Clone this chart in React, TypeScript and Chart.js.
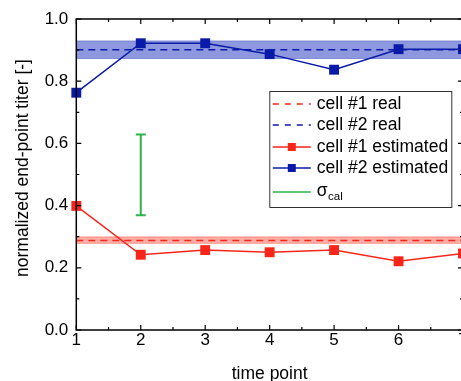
import React, { useEffect, useRef } from "react";
import { Chart, registerables } from "chart.js";

Chart.register(...registerables);

// ---- data ----
const timePoints = [1, 2, 3, 4, 5, 6, 7];
const cell1Estimated = [0.399, 0.242, 0.257, 0.25, 0.257, 0.221, 0.246];
const cell2Estimated = [0.763, 0.922, 0.922, 0.887, 0.837, 0.903, 0.903];
const cell1Real = 0.288;
const cell1RealBand = [0.279, 0.299];
const cell2Real = 0.901;
const cell2RealBand = [0.873, 0.929];
const sigmaCalX = 2;
const sigmaCalRange = [0.369, 0.629];
const xTicks = [1, 2, 3, 4, 5, 6, 7];
const yTicks = [0, 0.2, 0.4, 0.6, 0.8, 1.0];
const xMinorTicks = [1.5, 2.5, 3.5, 4.5, 5.5, 6.5];
const yMinorTicks = [0.1, 0.3, 0.5, 0.7, 0.9];
const legendLabels = ["cell #1 real", "cell #2 real", "cell #1 estimated", "cell #2 estimated"];
const xTitle = "time point";
const yTitle = "normalized end-point titer [-]";

const RED = "#f8261a";
const BLUE = "#0a1aa8";
const GREEN = "#2db44a";
const FONT = "'Liberation Sans', Arial, sans-serif";

const span = (v: number) => [
  { x: timePoints[0], y: v },
  { x: timePoints[timePoints.length - 1], y: v },
];

const framePlugin = {
  id: "frame",
  afterDatasetsDraw(chart: any) {
    const { ctx, chartArea: a, scales } = chart;
    const xs = scales.x, ys = scales.y;
    ctx.save();
    ctx.strokeStyle = "#000";
    ctx.lineWidth = 1.5;
    ctx.strokeRect(a.left, a.top, a.right - a.left, a.bottom - a.top);
    ctx.lineWidth = 1.2;
    ctx.beginPath();
    const tick = (vals: number[], len: number) => {
      vals.forEach((v) => {
        const px = xs.getPixelForValue(v);
        ctx.moveTo(px, a.bottom); ctx.lineTo(px, a.bottom - len);
        ctx.moveTo(px, a.top); ctx.lineTo(px, a.top + len);
      });
    };
    const tickY = (vals: number[], len: number) => {
      vals.forEach((v) => {
        const py = ys.getPixelForValue(v);
        ctx.moveTo(a.left, py); ctx.lineTo(a.left + len, py);
        ctx.moveTo(a.right, py); ctx.lineTo(a.right - len, py);
      });
    };
    tick(xTicks, 5); tick(xMinorTicks, 3);
    tickY(yTicks, 5); tickY(yMinorTicks, 3);
    ctx.stroke();

    // axis titles
    ctx.fillStyle = "#000";
    ctx.font = `17.5px ${FONT}`;
    ctx.textAlign = "center";
    ctx.textBaseline = "alphabetic";
    ctx.fillText(xTitle, (a.left + a.right) / 2, 379);
    ctx.save();
    ctx.translate(27.5, 168);
    ctx.rotate(-Math.PI / 2);
    ctx.fillText(yTitle, 0, 0);
    ctx.restore();
    ctx.restore();
  },
};

const legendPlugin = {
  id: "customLegend",
  afterDraw(chart: any) {
    const { ctx, chartArea: a } = chart;
    const bx = a.left + 193.5, by = 91.5, bw = 182, bh = 116;
    ctx.save();
    ctx.fillStyle = "#fff";
    ctx.fillRect(bx, by, bw, bh);
    ctx.strokeStyle = "#333";
    ctx.lineWidth = 1;
    ctx.strokeRect(bx, by, bw, bh);
    const x0 = bx + 3, x1 = bx + 41, tx = bx + 47;
    const rows = [104, 125, 147, 168];
    const colors = [RED, BLUE, RED, BLUE];
    rows.forEach((ry, i) => {
      ctx.strokeStyle = colors[i];
      ctx.lineWidth = 1.5;
      ctx.setLineDash(i < 2 ? [6, 6] : []);
      ctx.beginPath();
      ctx.moveTo(x0, ry); ctx.lineTo(x1, ry);
      ctx.stroke();
      ctx.setLineDash([]);
      if (i >= 2) {
        ctx.fillStyle = colors[i];
        ctx.fillRect((x0 + x1) / 2 - 4, ry - 4, 8, 8);
      }
      ctx.fillStyle = "#000";
      ctx.font = `17.5px ${FONT}`;
      ctx.textAlign = "left";
      ctx.textBaseline = "middle";
      ctx.fillText(legendLabels[i], tx, ry);
    });
    // sigma_cal
    ctx.strokeStyle = GREEN;
    ctx.lineWidth = 1.5;
    ctx.beginPath();
    ctx.moveTo(x0, 192); ctx.lineTo(x1, 192);
    ctx.stroke();
    ctx.fillStyle = "#000";
    ctx.textBaseline = "alphabetic";
    ctx.font = `17.5px ${FONT}`;
    ctx.fillText("σ", tx, 196);
    const w = ctx.measureText("σ").width;
    ctx.font = `11.5px ${FONT}`;
    ctx.fillText("cal", tx + w + 0.5, 200);
    ctx.restore();
  },
};

export default function App() {
  const ref = useRef<HTMLCanvasElement>(null);
  useEffect(() => {
    if (!ref.current) return;
    const tickFont = { family: FONT, size: 17 };
    const chart = new Chart(ref.current, {
      type: "line",
      data: {
        datasets: [
          {
            label: legendLabels[3],
            data: timePoints.map((t, i) => ({ x: t, y: cell2Estimated[i] })),
            borderColor: BLUE,
            backgroundColor: BLUE,
            borderWidth: 1.5,
            pointStyle: "rect",
            pointRadius: 7,
            pointBorderWidth: 0,
            clip: false,
          },
          {
            label: legendLabels[2],
            data: timePoints.map((t, i) => ({ x: t, y: cell1Estimated[i] })),
            borderColor: RED,
            backgroundColor: RED,
            borderWidth: 1.5,
            pointStyle: "rect",
            pointRadius: 7,
            pointBorderWidth: 0,
            clip: false,
          },
          {
            label: "σcal",
            data: [
              { x: sigmaCalX, y: sigmaCalRange[0] },
              { x: sigmaCalX, y: sigmaCalRange[1] },
            ],
            borderColor: GREEN,
            backgroundColor: GREEN,
            borderWidth: 2,
            pointStyle: "line",
            pointRadius: 5,
            pointBorderWidth: 2,
            pointBorderColor: GREEN,
          },
          {
            label: legendLabels[0],
            data: span(cell1Real),
            borderColor: RED,
            borderWidth: 1.5,
            borderDash: [7, 5],
            pointRadius: 0,
          },
          {
            label: legendLabels[1],
            data: span(cell2Real),
            borderColor: BLUE,
            borderWidth: 1.5,
            borderDash: [7, 5],
            pointRadius: 0,
          },
          {
            label: "band1u",
            data: span(cell1RealBand[1]),
            borderColor: "#ff8a80",
            borderWidth: 1,
            pointRadius: 0,
            fill: "+1",
            backgroundColor: "rgb(255,172,164)",
          },
          {
            label: "band1l",
            data: span(cell1RealBand[0]),
            borderColor: "#ff8a80",
            borderWidth: 1,
            pointRadius: 0,
          },
          {
            label: "band2u",
            data: span(cell2RealBand[1]),
            borderColor: "#7581d3",
            borderWidth: 1,
            pointRadius: 0,
            fill: "+1",
            backgroundColor: "rgb(142,152,222)",
          },
          {
            label: "band2l",
            data: span(cell2RealBand[0]),
            borderColor: "#7581d3",
            borderWidth: 1,
            pointRadius: 0,
          },
        ],
      },
      options: {
        animation: false,
        responsive: false,
        devicePixelRatio: 1,
        layout: { padding: { top: 19, right: 17, left: 0, bottom: 0 } },
        plugins: { legend: { display: false }, tooltip: { enabled: false } },
        scales: {
          x: {
            type: "linear",
            min: 1,
            max: 7,
            afterBuildTicks: (s: any) => {
              s.ticks = xTicks.map((v) => ({ value: v }));
            },
            afterFit: (s: any) => {
              s.height = 51;
            },
            grid: { display: false, drawTicks: false },
            border: { display: false },
            ticks: { font: tickFont, color: "#000", padding: 0, maxRotation: 0, autoSkip: false },
          },
          y: {
            type: "linear",
            min: 0,
            max: 1,
            afterBuildTicks: (s: any) => {
              s.ticks = yTicks.map((v) => ({ value: v }));
            },
            afterFit: (s: any) => {
              s.width = 76.3;
            },
            grid: { display: false, drawTicks: false },
            border: { display: false },
            ticks: {
              font: tickFont,
              color: "#000",
              padding: 8,
              callback: (v: any) => Number(v).toFixed(1),
            },
          },
        },
      },
      plugins: [framePlugin, legendPlugin],
    } as any);
    return () => chart.destroy();
  }, []);
  return (
    <div style={{ position: "fixed", left: 0, top: 0, width: 461, height: 381, overflow: "hidden", background: "#fff" }}>
      <canvas ref={ref} width={480} height={381} style={{ display: "block" }} />
    </div>
  );
}
